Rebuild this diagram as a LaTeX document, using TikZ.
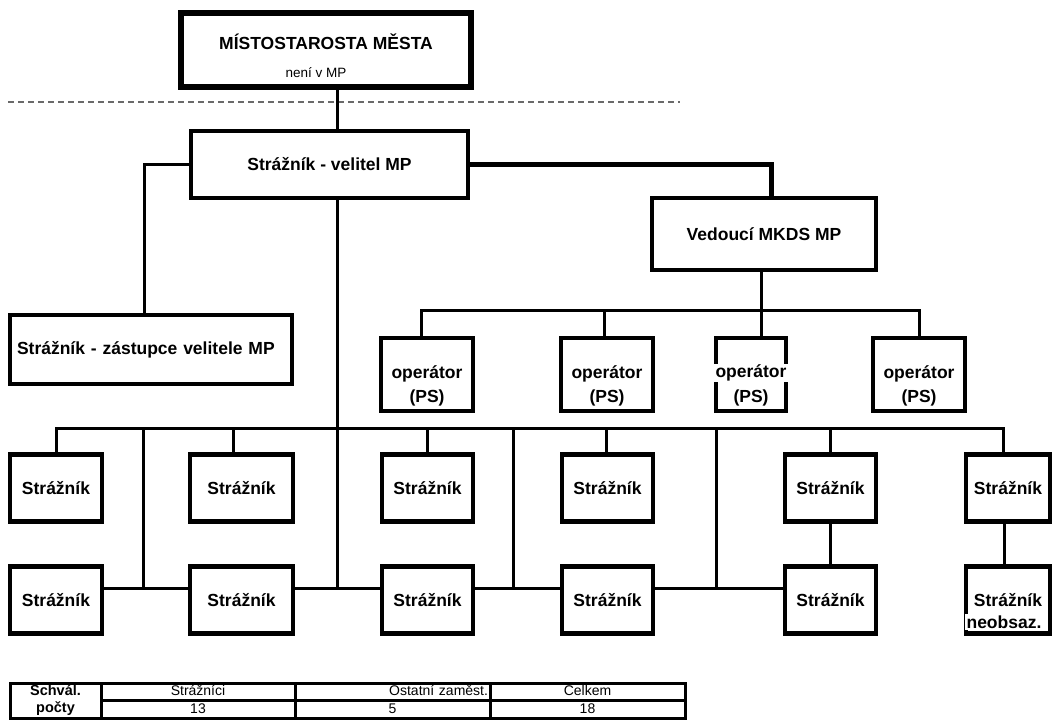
\documentclass[tikz,border=0pt]{standalone}
\usepackage{fontspec}
\setmainfont{Liberation Sans}
\usetikzlibrary{positioning, calc}
\definecolor{dashgray}{RGB}{105,105,105}
\newcommand{\boxfont}{\fontsize{17.5}{24}\selectfont\bfseries}
\newcommand{\tabfont}{\fontsize{14}{16}\selectfont}

\begin{document}
\begin{tikzpicture}[x=1pt, y=-1pt,
  orgbox/.style={draw, line width=4.5pt, outer sep=0pt, inner sep=2pt, align=center, font=\boxfont},
  sbox/.style={orgbox, minimum width=91pt, minimum height=67pt},
  opbox/.style={orgbox, minimum width=92pt, minimum height=73pt},
  link/.style={line width=3pt},
  cell/.style={draw, line width=3pt, outer sep=0pt, inner sep=0pt, minimum height=17.5pt, text height=10pt, text depth=2.5pt, font=\tabfont}
]
  \useasboundingbox (0,0) rectangle (1054,726);

  % dividing line (outside MP)
  \coordinate (divl) at (8,102);
  \coordinate (divr) at (680,102);
  \draw[dashgray, line width=1.5pt, dash pattern=on 6pt off 4pt] (divl) -- (divr);

  % head of the chart
  \node[orgbox, line width=6pt, minimum width=290pt, minimum height=74pt, text height=12pt, text depth=14pt] (mist) at (326,50) {MÍSTOSTAROSTA MĚSTA};
  \node[font=\fontsize{13.5}{15}\selectfont, inner sep=0pt] (mistpozn) at (316,73) {není v MP};
  \node[orgbox, minimum width=277pt, minimum height=67pt] (velitel) at (329.5,164.5) {Strážník - velitel MP};
  \node[orgbox, minimum width=282pt, minimum height=69pt, text width=268pt, align=left] (zast) at (151,349.5) {Strážník - zástupce velitele MP};
  \node[orgbox, minimum width=224pt, minimum height=72pt] (vedouci) at (764,234) {Vedoucí MKDS MP};

  \coordinate (trunk) at (337,428);
  \draw[link] (mist.south -| trunk) -- (velitel.north -| trunk);
  \draw[link] (velitel.west) -| ([xshift=-7pt]zast.north);
  \draw[line width=5pt] (velitel.east) -| ([xshift=7pt]vedouci.north);

  % operators
  \coordinate (opbus) at (0,310);
  \foreach \n/\x in {op1/427, op2/607, op4/919}{
    \node[opbox] (\n) at (\x,374.5) {};
    \node[font=\boxfont, align=center] (\n-txt) at ([yshift=-11pt]\n.center) {operátor\\(PS)};
  }
  \node[opbox, minimum width=70pt] (op3) at (751,374.5) {};
  \node[font=\boxfont, fill=white, inner xsep=3pt, inner ysep=1pt] (op3-a) at (751,373) {operátor};
  \node[font=\boxfont] (op3-b) at (751,398) {(PS)};

  \draw[link] ([xshift=-3pt]vedouci.south) -- ([xshift=-3pt]vedouci.south |- op3.north);
  \draw[link] ([xshift=-6pt]op1.north) |- (op4.north |- opbus) -- (op4.north);
  \draw[link] ([xshift=-3pt]op2.north) -- ([xshift=-3pt]op2.north |- opbus);

  % strazniki
  \coordinate (upbus) at (0,428);
  \coordinate (lowbus) at (0,588);
  \foreach \i/\x/\w in {1/56/92, 2/241.5/103, 3/427.5/91, 4/607.5/91, 5/830.5/91, 6/1008/84}{
    \node[sbox, minimum width=\w pt] (sa\i) at (\x,488) {Strážník};
  }
  \foreach \i/\x/\w in {1/56/92, 2/241.5/103, 3/427.5/91, 4/607.5/91, 5/830.5/91}{
    \node[sbox, minimum width=\w pt] (sb\i) at (\x,600) {Strážník};
  }
  \node[sbox, minimum width=84pt] (sb6) at (1008,600) {Strážník};
  \node[font=\boxfont, fill=white, inner sep=2pt] (sb6-n) at (1004,622) {neobsaz.};

  \draw[link] (sa1.north) |- (trunk) -| ([xshift=-5pt]sa6.north);
  \foreach \n/\dx in {sa2/-8, sa3/0, sa4/-1, sa5/0}
    \draw[link] ([xshift=\dx pt]\n.north) -- ([xshift=\dx pt]\n.north |- upbus);
  \draw[link] (velitel.south -| trunk) -- (trunk |- lowbus);
  \coordinate (j1) at (143,428);
  \coordinate (j2) at (513,428);
  \coordinate (j3) at (716,428);
  \foreach \j in {j1, j2, j3}
    \draw[link] (\j) -- (\j |- lowbus);
  \foreach \a/\b in {sb1/sb2, sb2/sb3, sb3/sb4, sb4/sb5}
    \draw[link] (\a.east |- lowbus) -- (\b.west |- lowbus);
  \draw[link] (sa5.south) -- (sb5.north);
  \draw[link] ([xshift=-4pt]sa6.south) -- ([xshift=-4pt]sb6.north);

  % table of numbers
  \node[cell, minimum width=91pt, minimum height=35pt, text height=, text depth=, align=center, font=\fontsize{14.5}{17}\selectfont\bfseries] (schval) at (55.5,700.5) {Schvál.\\počty};
  \node[cell, minimum width=194pt] (h1) at (198,691.75) {Strážníci};
  \node[cell, minimum width=195pt, text width=191pt, align=right] (h2) at (392.5,691.75) {Ostatní zaměst.};
  \node[cell, minimum width=195pt] (h3) at (587.5,691.75) {Celkem};
  \node[cell, minimum width=194pt] (n1) at (198,709.25) {13};
  \node[cell, minimum width=195pt] (n2) at (392.5,709.25) {5};
  \node[cell, minimum width=195pt] (n3) at (587.5,709.25) {18};
\end{tikzpicture}
\end{document}
